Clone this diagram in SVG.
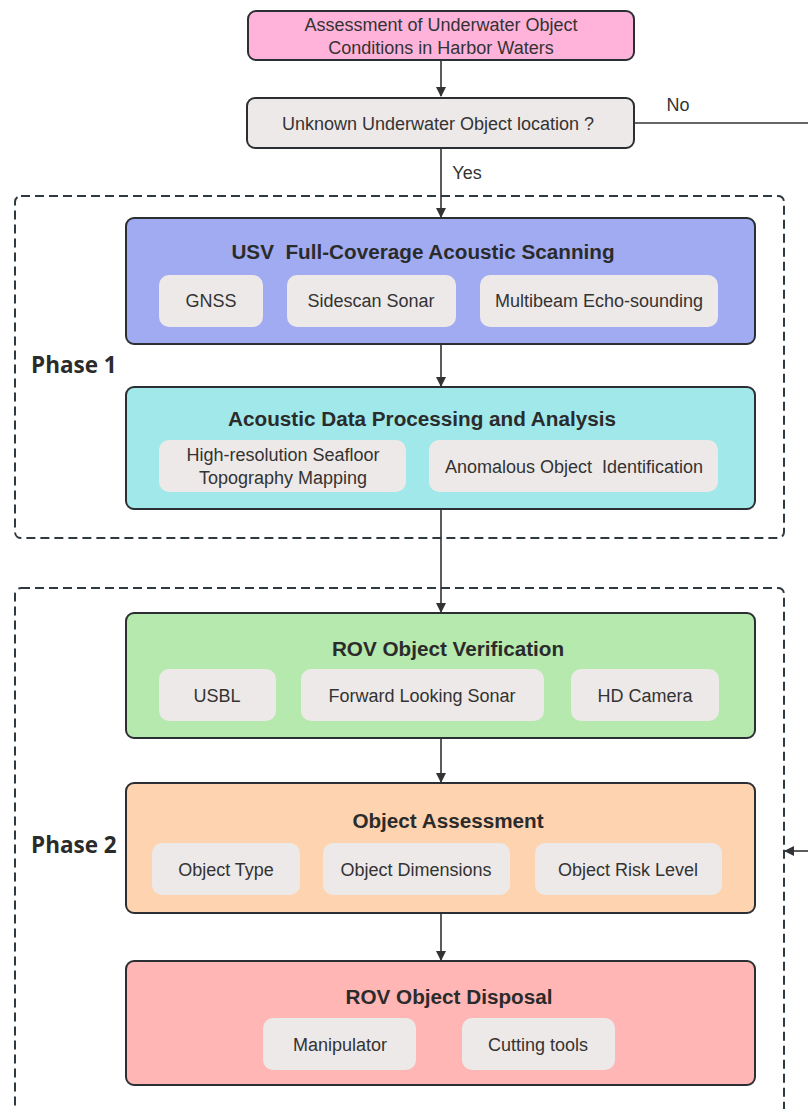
<svg xmlns="http://www.w3.org/2000/svg" width="808" height="1109" viewBox="0 0 808 1109">
<style>
.box{stroke:#2b2f33;stroke-width:2}
.sub{fill:#ede9e8}
.t{font-family:"Liberation Sans",Arial,sans-serif;font-size:18px;fill:#333;text-anchor:middle}
.h{font-family:"Liberation Sans",Arial,sans-serif;font-size:20.7px;font-weight:bold;fill:#2b2b2b;text-anchor:middle}
.ph{font-family:"Open Sans","Noto Sans",sans-serif;font-size:22.5px;font-weight:bold;fill:#2b2b2b}
.dash{fill:none;stroke:#2d3a40;stroke-width:2;stroke-dasharray:9 5}
.ln{fill:none;stroke:#333;stroke-width:1.6}
.pre{white-space:pre}
</style>
<defs>
<marker id="ah" markerWidth="10" markerHeight="10" refX="9" refY="5" orient="auto" markerUnits="userSpaceOnUse">
<path d="M0,0 L10,5 L0,10 z" fill="#333"/>
</marker>
</defs>
<rect width="808" height="1109" fill="#fff"/>
<g id="phase1">
<rect class="dash" x="15" y="196" width="769" height="342" rx="6"/>
<text class="ph" x="31" y="373">Phase 1</text>
</g>
<g id="phase2">
<rect class="dash" x="15" y="588" width="769" height="540" rx="6"/>
<text class="ph" x="31" y="853">Phase 2</text>
</g>
<g id="connectors">
<line class="ln" x1="441" y1="60" x2="441" y2="96" marker-end="url(#ah)"/>
<line class="ln" x1="441" y1="148" x2="441" y2="217" marker-end="url(#ah)"/>
<text class="t" x="467" y="179">Yes</text>
<line class="ln" x1="634" y1="123" x2="808" y2="123"/>
<text class="t" x="678" y="111">No</text>
<line class="ln" x1="441" y1="344" x2="441" y2="386" marker-end="url(#ah)"/>
<line class="ln" x1="441" y1="509" x2="441" y2="612" marker-end="url(#ah)"/>
<line class="ln" x1="441" y1="738" x2="441" y2="782" marker-end="url(#ah)"/>
<line class="ln" x1="441" y1="913" x2="441" y2="960" marker-end="url(#ah)"/>
<line class="ln" x1="808" y1="851" x2="785" y2="851" marker-end="url(#ah)"/>
</g>
<g id="start">
<rect class="box" x="248" y="11" width="386" height="49" rx="8" fill="#ffb3da"/>
<text class="t" x="441" y="31">Assessment of Underwater Object</text>
<text class="t" x="441" y="54">Conditions in Harbor Waters</text>
</g>
<g id="decision">
<rect class="box" x="247" y="98" width="387" height="50" rx="8" fill="#ede9e8"/>
<text class="t" x="438" y="130">Unknown Underwater Object location ?</text>
</g>
<g id="usv">
<rect class="box" x="126" y="218" width="629" height="126" rx="8" fill="#a1abf1"/>
<text class="h pre" x="423" y="259" xml:space="preserve">USV  Full-Coverage Acoustic Scanning</text>
<rect class="sub" x="159" y="275" width="104" height="52" rx="10"/>
<text class="t" x="211" y="307">GNSS</text>
<rect class="sub" x="287" y="275" width="169" height="52" rx="10"/>
<text class="t" x="371" y="307">Sidescan Sonar</text>
<rect class="sub" x="480" y="275" width="238" height="52" rx="10"/>
<text class="t" x="599" y="307">Multibeam Echo-sounding</text>
</g>
<g id="acoustic">
<rect class="box" x="126" y="387" width="629" height="122" rx="8" fill="#a0e8e9"/>
<text class="h" x="422" y="426">Acoustic Data Processing and Analysis</text>
<rect class="sub" x="159" y="440" width="247" height="52" rx="10"/>
<text class="t" x="283" y="461">High-resolution Seafloor</text>
<text class="t" x="283" y="484">Topography Mapping</text>
<rect class="sub" x="429" y="440" width="289" height="52" rx="10"/>
<text class="t pre" x="574" y="473" xml:space="preserve">Anomalous Object  Identification</text>
</g>
<g id="rov-verify">
<rect class="box" x="126" y="613" width="629" height="125" rx="8" fill="#b5e9ae"/>
<text class="h" x="448" y="656">ROV Object Verification</text>
<rect class="sub" x="159" y="669" width="117" height="52" rx="10"/>
<text class="t" x="217" y="702">USBL</text>
<rect class="sub" x="301" y="669" width="243" height="52" rx="10"/>
<text class="t" x="422" y="702">Forward Looking Sonar</text>
<rect class="sub" x="571" y="669" width="148" height="52" rx="10"/>
<text class="t" x="645" y="702">HD Camera</text>
</g>
<g id="assessment">
<rect class="box" x="126" y="783" width="629" height="130" rx="8" fill="#fed3b0"/>
<text class="h" x="448" y="828">Object Assessment</text>
<rect class="sub" x="152" y="843" width="148" height="52" rx="10"/>
<text class="t" x="226" y="876">Object Type</text>
<rect class="sub" x="323" y="843" width="187" height="52" rx="10"/>
<text class="t" x="416" y="876">Object Dimensions</text>
<rect class="sub" x="535" y="843" width="187" height="52" rx="10"/>
<text class="t" x="628" y="876">Object Risk Level</text>
</g>
<g id="disposal">
<rect class="box" x="126" y="961" width="629" height="124" rx="8" fill="#ffb6b5"/>
<text class="h" x="449" y="1004">ROV Object Disposal</text>
<rect class="sub" x="263" y="1018" width="153" height="52" rx="10"/>
<text class="t" x="340" y="1051">Manipulator</text>
<rect class="sub" x="462" y="1018" width="153" height="52" rx="10"/>
<text class="t" x="538" y="1051">Cutting tools</text>
</g>
</svg>
